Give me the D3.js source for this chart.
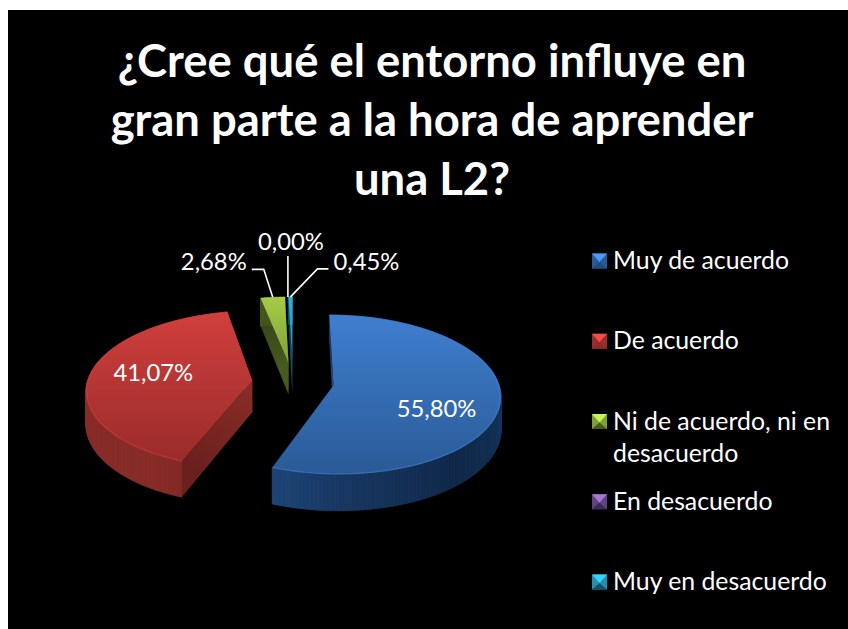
<!DOCTYPE html>
<html><head><meta charset="utf-8">
<script src="https://cdn.jsdelivr.net/npm/d3@7"></script>
<style>html,body{margin:0;padding:0;background:#fff}svg{display:block}text{font-family:Lato,"Open Sans",sans-serif;fill:#fff}</style>
</head><body><svg id="c" width="848" height="629"></svg>
<script>
const titleLines = ["¿Cree qué el entorno influye en","gran parte a la hora de aprender","una L2?"];
const categories = ["Muy de acuerdo","De acuerdo","Ni de acuerdo, ni en|desacuerdo","En desacuerdo","Muy en desacuerdo"];
const values = [55.80,41.07,2.68,0.00,0.45];
const valueLabels = ["55,80%","41,07%","2,68%","0,00%","0,45%"];
const topLight = ["#3f7fd0","#d03f3d","#a6cc47","#8a63b5","#2fb0d8"];
const topDark  = ["#2a5a96","#9a2c2a","#7f9f38","#5f437f","#2490b0"];
const wallLight= ["#214c82","#8a2d29","#46591f","#3d2a55","#18506a"];
const wallDark = ["#11294a","#6a201d","#2f3c15","#221733","#101c40"];

const W=848,H=629,cx=293,cy=382,R=165,tilt=.472,persp=.114,depth=33,explode=41;
const svg=d3.select("#c");
const defs=svg.append("defs");
svg.append("rect").attr("x",8).attr("y",10).attr("width",W-8).attr("height",H-10).attr("fill","#000");

const title=svg.append("g").attr("font-weight",700).attr("font-size",45.4).attr("text-anchor","middle");
title.selectAll("text").data(titleLines).join("text").attr("x",432).attr("y",(d,i)=>77+i*59).text(d=>d);

const arcs=d3.pie().sort(null).value(d=>d)(values);
function proj(px,py,z){const s=1/(1-persp*py/R);return [cx+px*s,cy+tilt*py*s+z*s*.97];}
function slicePt(d,a,r,z){
  const m=(d.startAngle+d.endAngle)/2;
  const ox=explode*Math.sin(m),oy=-explode*Math.cos(m);
  return proj(ox+r*R*Math.sin(a),oy-r*R*Math.cos(a),z);
}
const line=d3.line();
const drawOrder=[2,4,0,1];
drawOrder.forEach(i=>{
  const d=arcs[i],g=svg.append("g");
  const a0=d.startAngle,a1=d.endAngle;
  const angles=d3.range(0,161).map(k=>a0+(a1-a0)*k/160);
  const face=(a,id)=>{
    const pts=[slicePt(d,a,1,0),slicePt(d,a,0,0),slicePt(d,a,0,depth),slicePt(d,a,1,depth)];
    const gr=defs.append("linearGradient").attr("id",id).attr("gradientUnits","userSpaceOnUse")
      .attr("x1",pts[0][0]).attr("y1",pts[0][1]).attr("x2",pts[1][0]).attr("y2",pts[1][1]);
    gr.append("stop").attr("offset",0).attr("stop-color",wallDark[i]);
    gr.append("stop").attr("offset",1).attr("stop-color",wallLight[i]);
    g.append("path").attr("d",line(pts)+"Z").attr("fill",`url(#${id})`);
  };
  face(a1,"fe"+i); face(a0,"fs"+i);
  const sideShade=d3.scaleLinear().domain([Math.PI/2,2.45,Math.PI,3.7]).range([.55,1,.55,0]).clamp(true);
  const col=d3.interpolateRgb(wallLight[i],wallDark[i]);
  d3.pairs(angles).forEach(([p,q])=>{
    const pts=[slicePt(d,p,1,0),slicePt(d,q,1,0),slicePt(d,q,1,depth),slicePt(d,p,1,depth)];
    const c=col(sideShade((p+q)/2));
    g.append("path").attr("d",line(pts)+"Z").attr("fill",c).attr("stroke",c).attr("stroke-width",.8);
  });
  const top=[slicePt(d,a0,0,0),...angles.map(a=>slicePt(d,a,1,0))];
  const ys=top.map(p=>p[1]);
  const gr=defs.append("linearGradient").attr("id","t"+i).attr("gradientUnits","userSpaceOnUse")
    .attr("x1",0).attr("x2",0).attr("y1",d3.min(ys)).attr("y2",d3.max(ys));
  gr.append("stop").attr("offset",0).attr("stop-color",topLight[i]);
  gr.append("stop").attr("offset",1).attr("stop-color",topDark[i]);
  g.append("path").attr("d",line(top)+"Z").attr("fill",`url(#t${i})`);
  g.append("path").attr("d",line(angles.map(a=>slicePt(d,a,.995,0)))).attr("fill","none")
    .attr("stroke",topLight[i]).attr("stroke-width",1.4).attr("stroke-opacity",.5);
});

const labelFont=23.8;
const lab=svg.append("g").attr("font-size",labelFont).attr("text-anchor","middle");
const inside={0:[103,31],1:[-99,1]};
Object.keys(inside).forEach(k=>{
  const d=arcs[k],c=slicePt(d,0,0,0);
  lab.append("text").attr("x",c[0]+inside[k][0]).attr("y",c[1]+inside[k][1]).text(valueLabels[k]);
});
const leaders=[
  {i:2,elbow:[-9,-28],end:[-21,-28],gap:-5,dy:-27,anchor:"end"},
  {i:3,elbow:[0,-20],end:[0,-41],gap:3,dy:-47,anchor:"middle"},
  {i:4,elbow:[27,-28],end:[38,-28],gap:43,dy:-27,anchor:"start"}
];
leaders.forEach(l=>{
  const d=arcs[l.i],m=(d.startAngle+d.endAngle)/2,p=slicePt(d,m,1,0);
  svg.append("path").attr("d",line([p,[p[0]+l.elbow[0],p[1]+l.elbow[1]],[p[0]+l.end[0],p[1]+l.end[1]]]))
    .attr("fill","none").attr("stroke","#fff").attr("stroke-width",1.6);
  const tx=l.i===2?p[0]+l.end[0]+l.gap:p[0]+l.gap;
  lab.append("text").attr("x",tx).attr("y",p[1]+l.dy).attr("text-anchor",l.anchor).text(valueLabels[l.i]);
});

const legendY=d3.scalePoint().domain(d3.range(categories.length)).range([261,582]);
const leg=svg.append("g");
const ms=15;
categories.forEach((c,i)=>{
  const y=legendY(i),x=592,g=leg.append("g");
  g.append("rect").attr("x",x).attr("y",y-ms/2).attr("width",ms).attr("height",ms).attr("fill",topDark[i]);
  g.append("path").attr("d",line([[x,y-ms/2],[x+ms,y-ms/2],[x+ms/2,y+1]])+"Z").attr("fill",d3.color(topLight[i]).brighter(.5));
  g.append("path").attr("d",line([[x,y+ms/2],[x+ms,y+ms/2],[x+ms/2,y+1]])+"Z").attr("fill",wallLight[i]);
  c.split("|").forEach((t,j)=>{
    g.append("text").attr("x",613).attr("y",y+8+j*32).attr("font-size",24.8).text(t);
  });
});
</script></body></html>
